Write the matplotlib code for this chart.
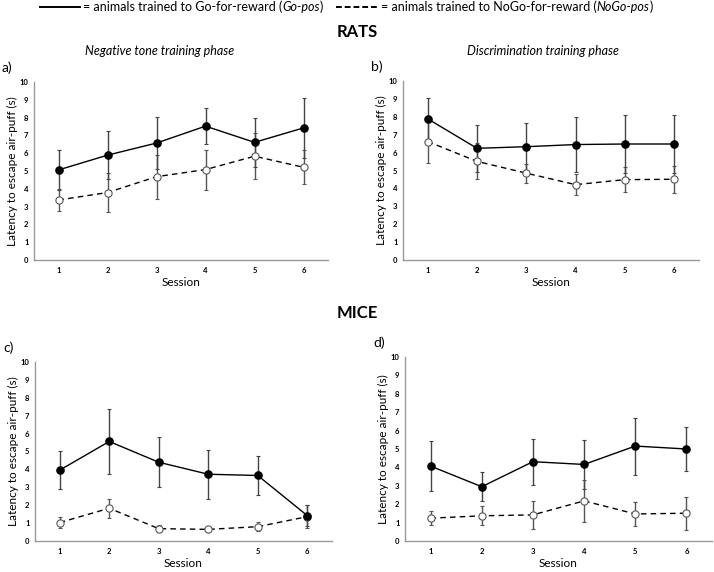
import matplotlib
matplotlib.use("Agg")
import matplotlib.pyplot as plt

plt.rcParams['font.family'] = ['Lato', 'DejaVu Sans']

# data
sessions = [1, 2, 3, 4, 5, 6]

rats_neg_go = [5.06, 5.89, 6.57, 7.52, 6.61, 7.42]
rats_neg_go_err = [1.13, 1.36, 1.46, 1.00, 1.38, 1.70]
rats_neg_nogo = [3.37, 3.79, 4.68, 5.08, 5.83, 5.21]
rats_neg_nogo_err = [0.62, 1.10, 1.23, 1.12, 1.28, 0.95]

rats_dis_go = [7.89, 6.24, 6.33, 6.45, 6.48, 6.48]
rats_dis_go_err = [1.17, 1.32, 1.34, 1.56, 1.64, 1.64]
rats_dis_nogo = [6.62, 5.51, 4.85, 4.21, 4.49, 4.51]
rats_dis_nogo_err = [1.20, 1.00, 0.53, 0.58, 0.69, 0.75]

mice_neg_go = [3.96, 5.56, 4.40, 3.73, 3.66, 1.42]
mice_neg_go_err = [1.05, 1.80, 1.39, 1.37, 1.10, 0.60]
mice_neg_nogo = [1.03, 1.83, 0.69, 0.65, 0.80, 1.36]
mice_neg_nogo_err = [0.33, 0.54, 0.20, 0.15, 0.25, 0.65]

mice_dis_go = [4.07, 2.95, 4.31, 4.16, 5.16, 5.00]
mice_dis_go_err = [1.35, 0.80, 1.24, 1.35, 1.55, 1.19]
mice_dis_nogo = [1.24, 1.37, 1.42, 2.18, 1.47, 1.51]
mice_dis_nogo_err = [0.38, 0.52, 0.78, 1.15, 0.63, 0.89]

panels = [
    ("a)", rats_neg_go, rats_neg_go_err, rats_neg_nogo, rats_neg_nogo_err),
    ("b)", rats_dis_go, rats_dis_go_err, rats_dis_nogo, rats_dis_nogo_err),
    ("c)", mice_neg_go, mice_neg_go_err, mice_neg_nogo, mice_neg_nogo_err),
    ("d)", mice_dis_go, mice_dis_go_err, mice_dis_nogo, mice_dis_nogo_err),
]

W, H = 714, 572
fig = plt.figure(figsize=(W / 100, H / 100), dpi=100)
fig.patch.set_facecolor("white")

# axes boxes in pixels: left, top, right, bottom
boxes = [(34, 82, 328, 260), (403, 81, 699, 260),
         (35, 362, 332, 541), (405, 357, 712, 541)]


def fx(x):
    return x / W


def fy(y):
    return 1 - y / H


for (lab, go, go_e, nogo, nogo_e), (l, t, r, b) in zip(panels, boxes):
    ax = fig.add_axes([fx(l), fy(b), (r - l) / W, (b - t) / H])
    ax.errorbar(sessions, nogo, yerr=nogo_e, fmt='none', ecolor='#555555',
                elinewidth=1.0, capsize=1.5, capthick=0.8, zorder=2)
    ax.errorbar(sessions, go, yerr=go_e, fmt='none', ecolor='#444444',
                elinewidth=1.0, capsize=1.5, capthick=0.8, zorder=2)
    ax.plot(sessions, nogo, color='black', lw=1.0, ls=(0, (4, 3)),
            marker='o', ms=5.2, mfc='white', mec='#555555', mew=0.8, zorder=3)
    ax.plot(sessions, go, color='black', lw=1.0, marker='o', ms=5.2,
            mfc='black', mec='black', zorder=4)
    ax.set_xlim(0.5, 6.5)
    ax.set_ylim(0, 10)
    ax.set_xticks(sessions)
    ax.set_yticks(range(0, 11))
    ax.tick_params(length=0, labelsize=5.5, pad=4)
    ax.tick_params(axis='x', pad=5)
    for tl in ax.get_xticklabels() + ax.get_yticklabels():
        tl.set_fontweight('bold')
    for s in ['top', 'right']:
        ax.spines[s].set_visible(False)
    for s in ['left', 'bottom']:
        ax.spines[s].set_color('#999999')
        ax.spines[s].set_linewidth(1.0)
    ax.set_xlabel("Session", fontsize=8.5, labelpad=2)
    ax.set_ylabel("Latency to escape air-puff (s)", fontsize=8.5, labelpad=1)
    fig.text(fx(l - 32), fy(t - 14), lab, fontsize=10, va='center', ha='left')

fig.text(0.5, fy(32), "RATS", fontsize=12, fontweight='bold', ha='center', va='center')
fig.text(0.5, fy(313), "MICE", fontsize=12, fontweight='bold', ha='center', va='center')
fig.text(fx(160), fy(51), "Negative tone training phase", fontsize=9,
         style='italic', ha='center', va='center')
fig.text(fx(543), fy(51), "Discrimination training phase", fontsize=9,
         style='italic', ha='center', va='center')

# legend along the top, built piece by piece so parts can be italic
renderer = fig.canvas.get_renderer()


def pieces(x, y, parts):
    for txt, st in parts:
        t = fig.text(x, y, txt, fontsize=9, style=st, ha='left', va='center')
        bb = t.get_window_extent(renderer=renderer)
        x = x + bb.width / W


fig.add_artist(plt.Line2D([fx(40), fx(80)], [fy(7), fy(7)], color='black', lw=1.4))
pieces(fx(83), fy(7), [("= animals trained to Go-for-reward (", 'normal'),
                       ("Go-pos", 'italic'), (")", 'normal')])
fig.add_artist(plt.Line2D([fx(336), fx(378)], [fy(7), fy(7)], color='black',
                          lw=1.4, ls=(0, (3, 1.5))))
pieces(fx(381), fy(7), [("= animals trained to NoGo-for-reward (", 'normal'),
                        ("NoGo-pos", 'italic'), (")", 'normal')])

fig.savefig("out.png", dpi=100)
